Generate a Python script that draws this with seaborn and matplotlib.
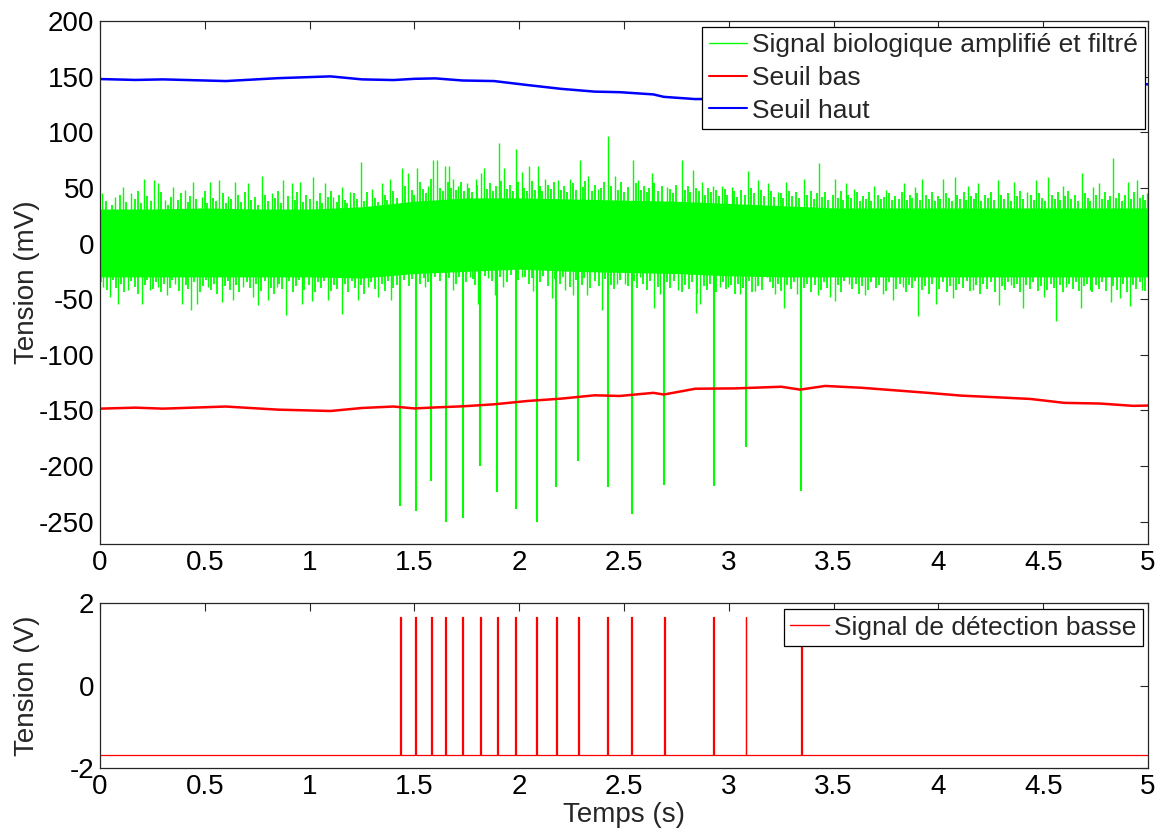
import numpy as np
import pandas as pd
import matplotlib
matplotlib.use("Agg")
import matplotlib.pyplot as plt
from matplotlib.lines import Line2D
import seaborn as sns

# ---- data ----

# solid core of the filtered signal (mV), every 0.25 s
temps_noyau = [0, 0.25, 0.5, 0.75, 1, 1.25, 1.5, 1.75, 2, 2.25, 2.5,
               2.75, 3, 3.25, 3.5, 3.75, 4, 4.25, 4.5, 4.75, 5]
noyau_haut = [31, 31, 32, 31, 31, 33, 38, 41, 41, 40, 39,
              38, 36, 34, 32, 32, 32, 32, 32, 32, 32]
noyau_bas = [-30, -30, -30, -30, -30, -31, -27, -25, -23, -25, -26,
             -27, -29, -30, -30, -30, -30, -30, -30, -30, -30]

# tall noise tips above the core (s, mV)
pointes_haut_t = [0.011, 0.072, 0.111, 0.148, 0.211, 0.259, 0.275, 0.31, 0.35, 0.405,
                  0.445, 0.485, 0.525, 0.568, 0.612, 0.644, 0.708, 0.771, 0.819, 0.875,
                  0.914, 0.954, 1.018, 1.073, 1.113, 1.153, 1.193, 1.244, 1.296, 1.344,
                  1.384, 1.443, 1.471, 1.511, 1.566, 1.59, 1.606, 1.646, 1.665, 1.686,
                  1.71, 1.749, 1.792, 1.818, 1.834, 1.905, 1.929, 1.983, 2.012, 2.047,
                  2.091, 2.123, 2.187, 2.242, 2.292, 2.33, 2.377, 2.425, 2.457, 2.545,
                  2.568, 2.632, 2.704, 2.775, 2.831, 2.871, 2.926, 2.966, 3.014, 3.093,
                  3.141, 3.189, 3.236, 3.271, 3.359, 3.431, 3.509, 3.557, 3.597, 3.693,
                  3.75, 3.838, 3.886, 3.923, 4.022, 4.079, 4.143, 4.191, 4.283, 4.36,
                  4.424, 4.468, 4.524, 4.593, 4.686, 4.738, 4.765, 4.831, 4.906, 4.946, 4.995]
pointes_haut_v = [45, 42, 51, 45, 58, 57, 54, 39, 51, 48,
                  55, 42, 55, 57, 43, 55, 54, 61, 45, 57,
                  54, 55, 60, 54, 42, 51, 46, 73, 49, 54,
                  58, 68, 63, 68, 52, 75, 75, 70, 70, 58,
                  52, 54, 58, 63, 68, 90, 68, 85, 64, 70,
                  70, 58, 57, 58, 75, 61, 49, 97, 61, 75,
                  57, 63, 51, 75, 66, 55, 52, 52, 51, 65,
                  57, 54, 46, 55, 58, 72, 58, 54, 49, 52,
                  48, 54, 51, 58, 58, 60, 52, 54, 57, 55,
                  46, 57, 60, 52, 63, 51, 54, 77, 55, 57, 45]

# smaller noise tips above the core (s, mV)
bruit_haut_t = [0.03, 0.055, 0.095, 0.125, 0.165, 0.18, 0.195, 0.225, 0.245, 0.29,
                0.325, 0.34, 0.37, 0.385, 0.42, 0.43, 0.46, 0.5, 0.51, 0.54,
                0.555, 0.585, 0.6, 0.625, 0.66, 0.675, 0.69, 0.72, 0.74, 0.755,
                0.785, 0.8, 0.835, 0.85, 0.865, 0.895, 0.93, 0.94, 0.97, 0.985,
                1.0, 1.035, 1.05, 1.06, 1.09, 1.1, 1.13, 1.14, 1.17, 1.18,
                1.21, 1.225, 1.26, 1.275, 1.31, 1.325, 1.36, 1.37, 1.4, 1.415,
                1.455, 1.49, 1.5, 1.525, 1.54, 1.555, 1.58, 1.62, 1.635, 1.66,
                1.675, 1.7, 1.72, 1.735, 1.76, 1.775, 1.8, 1.845, 1.86, 1.875,
                1.89, 1.915, 1.94, 1.955, 1.97, 1.995, 2.025, 2.035, 2.06, 2.075,
                2.1, 2.11, 2.135, 2.15, 2.165, 2.2, 2.215, 2.23, 2.255, 2.27,
                2.305, 2.315, 2.345, 2.36, 2.39, 2.405, 2.44, 2.47, 2.485, 2.5,
                2.52, 2.555, 2.58, 2.595, 2.61, 2.62, 2.645, 2.66, 2.68, 2.72,
                2.735, 2.75, 2.79, 2.805, 2.815, 2.845, 2.86, 2.885, 2.9, 2.915,
                2.94, 2.955, 2.98, 2.99, 3.025, 3.04, 3.06, 3.075, 3.105, 3.12,
                3.155, 3.17, 3.2, 3.215, 3.25, 3.26, 3.285, 3.3, 3.32, 3.335,
                3.375, 3.39, 3.405, 3.42, 3.445, 3.46, 3.475, 3.495, 3.52, 3.535,
                3.545, 3.57, 3.585, 3.61, 3.625, 3.64, 3.655, 3.67, 3.68, 3.71,
                3.725, 3.74, 3.765, 3.78, 3.795, 3.81, 3.825, 3.85, 3.865, 3.875,
                3.9, 3.91, 3.94, 3.955, 3.97, 3.985, 4.0, 4.01, 4.035, 4.05,
                4.065, 4.09, 4.105, 4.12, 4.13, 4.155, 4.17, 4.18, 4.205, 4.22,
                4.235, 4.25, 4.265, 4.3, 4.315, 4.33, 4.345, 4.375, 4.39, 4.405,
                4.44, 4.455, 4.48, 4.495, 4.51, 4.54, 4.555, 4.57, 4.58, 4.605,
                4.62, 4.635, 4.65, 4.665, 4.7, 4.715, 4.725, 4.75, 4.78, 4.795,
                4.81, 4.82, 4.845, 4.86, 4.875, 4.89, 4.92, 4.935, 4.96, 4.975, 4.985]
bruit_haut_v = [38, 35, 44, 37, 40, 47, 36, 43, 38, 46,
                35, 42, 39, 45, 37, 43, 40, 47, 36, 41,
                38, 45, 36, 40, 44, 37, 46, 39, 42, 35,
                44, 38, 41, 47, 36, 43, 39, 46, 37, 44,
                40, 38, 45, 36, 42, 47, 37, 44, 39, 36,
                45, 40, 38, 46, 41, 37, 44, 39, 47, 41,
                52, 48, 44, 55, 49, 45, 58, 50, 47, 55,
                50, 48, 55, 47, 50, 46, 53, 49, 54, 47,
                52, 56, 49, 53, 47, 55, 50, 47, 56, 48,
                52, 47, 53, 49, 55, 48, 52, 46, 54, 48,
                51, 56, 47, 53, 50, 55, 52, 48, 55, 46,
                51, 54, 48, 52, 46, 50, 54, 47, 52, 49,
                45, 53, 48, 52, 46, 50, 47, 44, 50, 46,
                48, 43, 49, 44, 47, 42, 48, 44, 50, 45,
                48, 43, 47, 42, 45, 41, 47, 43, 46, 41,
                44, 47, 40, 45, 42, 46, 39, 44, 41, 47,
                39, 44, 41, 46, 38, 43, 40, 46, 38, 44,
                40, 42, 45, 39, 43, 40, 46, 39, 44, 41,
                45, 39, 44, 40, 46, 38, 43, 40, 45, 41,
                38, 44, 40, 46, 39, 43, 40, 45, 38, 44,
                41, 46, 39, 44, 40, 45, 38, 43, 47, 40,
                44, 39, 45, 41, 38, 44, 40, 46, 39, 43,
                47, 40, 44, 38, 45, 41, 38, 44, 40, 46,
                39, 43, 41, 45, 38, 44, 40, 46, 41, 44, 39]

# tall noise tips below the core (s, mV)
pointes_bas_t = [0.016, 0.048, 0.087, 0.135, 0.199, 0.239, 0.278, 0.318, 0.358, 0.393,
                 0.434, 0.461, 0.517, 0.581, 0.636, 0.684, 0.731, 0.755, 0.803, 0.843,
                 0.887, 0.962, 1.01, 1.089, 1.153, 1.232, 1.28, 1.328, 1.388, 1.55,
                 1.686, 1.765, 1.805, 1.853, 1.885, 1.924, 2.012, 2.067, 2.155, 2.218,
                 2.258, 2.322, 2.394, 2.465, 2.505, 2.576, 2.644, 2.672, 2.759, 2.842,
                 2.863, 2.958, 2.998, 3.053, 3.125, 3.181, 3.22, 3.265, 3.324, 3.425,
                 3.485, 3.505, 3.573, 3.65, 3.737, 3.782, 3.83, 3.901, 3.99, 4.068,
                 4.167, 4.288, 4.344, 4.403, 4.505, 4.561, 4.609, 4.678, 4.721, 4.823,
                 4.866, 4.914, 4.97]
pointes_bas_v = [-39, -48, -54, -42, -54, -42, -39, -46, -36, -54,
                 -60, -54, -39, -53, -51, -39, -48, -55, -51, -39,
                 -64, -54, -52, -51, -63, -51, -39, -48, -51, -39,
                 -42, -30, -54, -31, -46, -39, -30, -43, -49, -42,
                 -46, -46, -60, -36, -36, -30, -58, -45, -42, -62,
                 -54, -39, -39, -45, -43, -30, -45, -58, -45, -46,
                 -48, -52, -36, -46, -45, -51, -39, -65, -54, -49,
                 -42, -55, -37, -58, -48, -70, -39, -58, -42, -53,
                 -49, -56, -42]

# smaller noise tips below the core (s, mV)
bruit_bas_t = [0.005, 0.035, 0.06, 0.075, 0.1, 0.115, 0.15, 0.165, 0.18, 0.215,
               0.225, 0.255, 0.265, 0.29, 0.305, 0.335, 0.345, 0.375, 0.41, 0.42,
               0.45, 0.475, 0.49, 0.505, 0.53, 0.545, 0.56, 0.595, 0.61, 0.62,
               0.65, 0.665, 0.7, 0.715, 0.745, 0.77, 0.785, 0.815, 0.83, 0.855,
               0.87, 0.9, 0.92, 0.935, 0.95, 0.975, 0.995, 1.025, 1.04, 1.055,
               1.07, 1.1, 1.115, 1.13, 1.17, 1.185, 1.2, 1.215, 1.245, 1.26,
               1.295, 1.31, 1.345, 1.36, 1.375, 1.4, 1.415, 1.45, 1.475, 1.49,
               1.525, 1.545, 1.565, 1.6, 1.62, 1.665, 1.7, 1.715, 1.745, 1.78,
               1.79, 1.835, 1.87, 1.91, 1.94, 1.96, 1.995, 2.03, 2.045, 2.06,
               2.1, 2.115, 2.135, 2.17, 2.195, 2.21, 2.24, 2.27, 2.3, 2.31,
               2.34, 2.36, 2.38, 2.41, 2.44, 2.45, 2.48, 2.52, 2.55, 2.56,
               2.59, 2.61, 2.625, 2.66, 2.705, 2.72, 2.74, 2.775, 2.79, 2.81,
               2.825, 2.85, 2.88, 2.895, 2.91, 2.94, 2.97, 2.985, 3.01, 3.03,
               3.045, 3.07, 3.095, 3.11, 3.14, 3.16, 3.195, 3.21, 3.235, 3.25,
               3.28, 3.295, 3.31, 3.36, 3.375, 3.39, 3.41, 3.44, 3.455, 3.47,
               3.52, 3.535, 3.55, 3.59, 3.605, 3.62, 3.635, 3.665, 3.68, 3.7,
               3.715, 3.75, 3.765, 3.8, 3.815, 3.845, 3.86, 3.875, 3.89, 3.92,
               3.935, 3.955, 3.97, 4.005, 4.02, 4.04, 4.055, 4.085, 4.1, 4.115,
               4.135, 4.15, 4.18, 4.2, 4.215, 4.23, 4.25, 4.27, 4.305, 4.32,
               4.33, 4.36, 4.375, 4.39, 4.42, 4.435, 4.45, 4.475, 4.49, 4.52,
               4.535, 4.55, 4.58, 4.595, 4.625, 4.64, 4.655, 4.67, 4.695, 4.71,
               4.735, 4.75, 4.765, 4.78, 4.8, 4.835, 4.85, 4.88, 4.9, 4.93,
               4.945, 4.96, 4.985]
bruit_bas_v = [-35, -42, -33, -40, -36, -44, -34, -39, -45, -37,
               -33, -41, -35, -44, -36, -40, -33, -43, -37, -41,
               -35, -44, -38, -33, -42, -36, -45, -38, -34, -42,
               -37, -44, -35, -40, -36, -43, -34, -40, -45, -36,
               -41, -34, -44, -38, -33, -42, -37, -44, -35, -40,
               -34, -43, -37, -41, -36, -44, -34, -40, -37, -45,
               -35, -41, -36, -43, -34, -40, -37, -33, -38, -32,
               -36, -31, -35, -30, -34, -31, -36, -30, -35, -32,
               -37, -29, -34, -30, -35, -28, -33, -30, -36, -31,
               -35, -29, -38, -32, -36, -30, -39, -33, -37, -31,
               -40, -34, -38, -32, -37, -41, -33, -38, -34, -40,
               -36, -42, -34, -39, -35, -40, -34, -44, -37, -41,
               -35, -45, -38, -42, -36, -44, -35, -41, -37, -45,
               -36, -40, -34, -44, -38, -42, -35, -40, -36, -43,
               -37, -41, -35, -40, -36, -44, -37, -42, -35, -40,
               -37, -44, -34, -41, -36, -45, -38, -42, -35, -40,
               -37, -43, -35, -41, -36, -44, -37, -40, -34, -42,
               -38, -45, -36, -41, -35, -44, -38, -42, -36, -40,
               -34, -43, -37, -45, -36, -41, -35, -44, -38, -42,
               -35, -40, -36, -44, -37, -41, -35, -43, -38, -42,
               -36, -40, -37, -44, -36, -41, -35, -43, -38, -36,
               -44, -37, -41, -35, -43, -38, -42, -36, -44, -37,
               -41, -35, -43]

# action potentials (s, mV)
pics_t = [1.432, 1.507, 1.580, 1.650, 1.730, 1.814, 1.895, 1.983, 2.084,
          2.176, 2.282, 2.423, 2.537, 2.692, 2.928, 3.082, 3.345]
pics_v = [-236, -240, -213, -250, -247, -200, -223, -239, -250,
          -219, -195, -219, -243, -217, -218, -183, -222]

# thresholds (mV)
seuil_t = [0.0, 0.17, 0.3, 0.6, 0.85, 1.1, 1.25, 1.4, 1.5, 1.6, 1.73, 1.88, 2.04,
           2.2, 2.36, 2.48, 2.64, 2.69, 2.84, 3.03, 3.25, 3.34, 3.46, 3.63, 3.79,
           3.95, 4.11, 4.28, 4.44, 4.6, 4.77, 4.93, 5.0]
seuil_bas = [-148.4, -147.5, -148.4, -146.5, -149.3, -150.5, -147.8, -146.5, -148.2,
             -147.3, -146.3, -144.5, -141.5, -139.4, -136.4, -137.0, -134.2, -135.7,
             -130.5, -130.2, -128.7, -131.3, -128.0, -129.6, -131.9, -134.2, -136.7,
             -138.2, -139.7, -143.2, -143.8, -145.9, -145.6]
seuil_haut = [147.8, 147.0, 147.5, 146.0, 148.6, 150.2, 147.5, 146.9, 148.0,
              148.4, 146.5, 146.0, 142.4, 139.0, 136.5, 136.0, 134.0, 131.8,
              129.8, 130.2, 128.7, 131.3, 128.0, 129.6, 131.9, 134.2, 136.7,
              138.2, 139.7, 142.5, 143.0, 144.0, 143.0]

# detection signal (V)
detection_t = [1.432, 1.507, 1.580, 1.650, 1.730, 1.814, 1.895, 1.983, 2.084,
               2.176, 2.282, 2.423, 2.537, 2.692, 2.928, 3.082, 3.345]
detection_bas = -1.68
detection_haut = 1.65

xticks = [0, 0.5, 1, 1.5, 2, 2.5, 3, 3.5, 4, 4.5, 5]
xtick_labels = ['0', '0.5', '1', '1.5', '2', '2.5', '3', '3.5', '4', '4.5', '5']

# ---- plotting ----
sns.set_style("white")
plt.rcParams['font.family'] = ['Liberation Sans', 'DejaVu Sans']
plt.rcParams['font.size'] = 20
plt.rcParams['axes.unicode_minus'] = False

VERT = '#00ff00'

fig = plt.figure(figsize=(11.63, 8.32), dpi=100)
ax1 = fig.add_axes([0.0860, 0.3462, 0.9011, 0.6286])
ax2 = fig.add_axes([0.0860, 0.0769, 0.9011, 0.1983])

# top panel: filtered signal and thresholds
ax1.fill_between(temps_noyau, noyau_bas, noyau_haut, color=VERT, lw=0)
ax1.vlines(bruit_haut_t, 0, bruit_haut_v, color=VERT, lw=1.3)
ax1.vlines(bruit_bas_t, 0, bruit_bas_v, color=VERT, lw=1.3)
ax1.vlines(pointes_haut_t, 0, pointes_haut_v, color=VERT, lw=1.0)
ax1.vlines(pointes_bas_t, 0, pointes_bas_v, color=VERT, lw=1.0)
ax1.vlines(pics_t, 0, pics_v, color=VERT, lw=1.5)

seuils = pd.DataFrame({'t': seuil_t, 'bas': seuil_bas, 'haut': seuil_haut})
sns.lineplot(data=seuils, x='t', y='bas', ax=ax1, color='red', lw=1.8, estimator=None)
sns.lineplot(data=seuils, x='t', y='haut', ax=ax1, color='blue', lw=1.8, estimator=None)

ax1.set_xlim(0, 5)
ax1.set_ylim(-270, 200)
ax1.set_yticks(range(-250, 201, 50))
ax1.set_xticks(xticks)
ax1.set_xticklabels(xtick_labels)
ax1.set_xlabel('')
ax1.set_ylabel('Tension (mV)')

poignees = [Line2D([], [], color=VERT, lw=1),
            Line2D([], [], color='red', lw=1.5),
            Line2D([], [], color='blue', lw=1.5)]
leg1 = ax1.legend(poignees, ['Signal biologique amplifié et filtré', 'Seuil bas', 'Seuil haut'],
                  loc='upper right', bbox_to_anchor=(0.997, 0.989), borderaxespad=0,
                  fontsize=19, fancybox=False, framealpha=1, edgecolor='black',
                  handlelength=1.45, handletextpad=0.2, labelspacing=0.33, borderpad=0.25)
leg1.get_frame().set_linewidth(0.9)

# bottom panel: detection pulses
det_x, det_y = [0.0], [detection_bas]
for t in detection_t:
    det_x += [t - 0.002, t - 0.002, t + 0.002, t + 0.002]
    det_y += [detection_bas, detection_haut, detection_haut, detection_bas]
det_x.append(5.0)
det_y.append(detection_bas)
detection = pd.DataFrame({'t': det_x, 'v': det_y})
sns.lineplot(data=detection, x='t', y='v', ax=ax2, color='red', lw=0.9,
             estimator=None, sort=False)

ax2.set_xlim(0, 5)
ax2.set_ylim(-2, 2)
ax2.set_yticks([-2, 0, 2])
ax2.set_xticks(xticks)
ax2.set_xticklabels(xtick_labels)
ax2.set_xlabel('Temps (s)', labelpad=2)
ax2.set_ylabel('Tension (V)')
leg2 = ax2.legend([Line2D([], [], color='red', lw=1)], ['Signal de détection basse'],
                  loc='upper right', bbox_to_anchor=(0.995, 0.964), borderaxespad=0,
                  fontsize=19, fancybox=False, framealpha=1, edgecolor='black',
                  handlelength=1.45, handletextpad=0.2, borderpad=0.25)
leg2.get_frame().set_linewidth(0.9)

for ax in (ax1, ax2):
    ax.yaxis.set_label_coords(-0.057, 0.5)
    ax.tick_params(direction='in', top=True, right=True, length=6, width=0.8,
                   labelsize=20, pad=4, colors='#262626', labelcolor='black')
    for s in ax.spines.values():
        s.set_color('#262626')
        s.set_linewidth(0.9)

fig.savefig('out.png', dpi=100)
